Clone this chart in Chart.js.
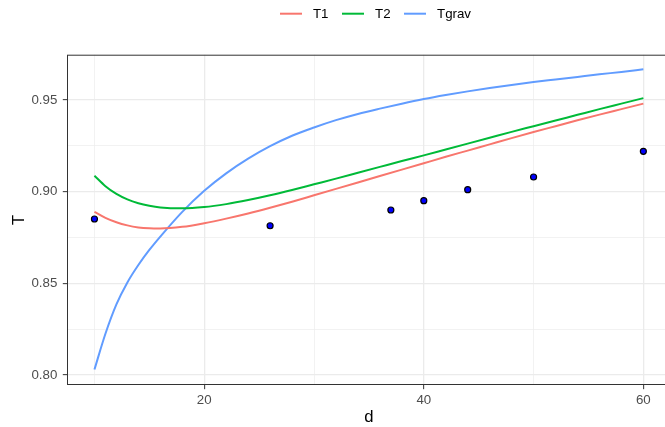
<!DOCTYPE html>
<html>
<head>
<meta charset="utf-8">
<script src="https://cdn.jsdelivr.net/npm/chart.js@4.4.1/dist/chart.umd.min.js"></script>
<style>
  html, body { margin: 0; padding: 0; overflow: hidden; background: #ffffff; }
</style>
</head>
<body>
<canvas id="chart" width="676" height="427"></canvas>
<script>
// curve values (every unit near the start, then every 2)
const dCurve = [10, 11, 12, 13, 14, 15, 16, 18, 20, 22, 24, 26, 28, 30, 32, 34, 36, 38, 40, 42, 44, 46, 48, 50, 52, 54, 56, 58, 60];
const t1 = [0.8890, 0.8857, 0.8833, 0.8816, 0.8805, 0.8800, 0.8799, 0.8808, 0.8828, 0.8853, 0.8881, 0.8912, 0.8945, 0.8980, 0.9015,
            0.9050, 0.9085, 0.9120, 0.9155, 0.9190, 0.9224, 0.9258, 0.9292, 0.9325, 0.9357, 0.9389, 0.9420, 0.9450, 0.9480];
const t2 = [0.9087, 0.9030, 0.8988, 0.8958, 0.8937, 0.8923, 0.8914, 0.8909, 0.8916, 0.8932, 0.8954, 0.8980, 0.9009, 0.9040, 0.9071,
            0.9103, 0.9135, 0.9167, 0.9198, 0.9230, 0.9262, 0.9294, 0.9326, 0.9357, 0.9388, 0.9419, 0.9450, 0.9480, 0.9510];
const tGrav = [0.8030, 0.8225, 0.8385, 0.8505, 0.8600, 0.8682, 0.8755, 0.8890, 0.9005, 0.9100, 0.9180, 0.9248, 0.9305, 0.9350, 0.9390,
               0.9424, 0.9453, 0.9480, 0.9505, 0.9527, 0.9547, 0.9565, 0.9582, 0.9598, 0.9612, 0.9626, 0.9640, 0.9653, 0.9667];

// measured points
const dObs = [10, 26, 37, 40, 44, 50, 60];
const tObs = [0.8851, 0.8814, 0.8900, 0.8951, 0.9011, 0.9080, 0.9220];

const xTicks = [10, 20, 30, 40, 50, 60];
const yTicks = [0.80, 0.825, 0.85, 0.875, 0.90, 0.925, 0.95];

const FONT = '"Liberation Sans", Arial, sans-serif';
const GRID = '#EBEBEB';
const DARK = '#333333';

const toXY = (xs, ys) => xs.map((x, i) => ({ x: x, y: ys[i] }));
const isMajorX = v => v % 20 === 0;
const isMajorY = v => Math.round(v * 1000) % 50 === 0;

// ggplot-like panel border on all four sides
const panelBorder = {
    id: 'panelBorder',
    afterDraw(chart) {
        const { ctx, chartArea: a } = chart;
        ctx.save();
        ctx.strokeStyle = DARK;
        ctx.lineWidth = 1;
        ctx.strokeRect(a.left + 0.5, a.top + 0.5, a.right - a.left - 1, a.bottom - a.top - 1);
        ctx.restore();
    }
};

// legend drawn as line keys over the top, centred like the reference
const topLegend = {
    id: 'topLegend',
    afterDraw(chart) {
        const ctx = chart.ctx;
        const items = chart.data.datasets.filter(ds => ds.label);
        const keyW = 22, textGap = 11, itemGap = 13.5, cx = 375.5, cy = 13.7;
        ctx.save();
        ctx.font = '13.3px ' + FONT;
        let total = 0;
        items.forEach((ds, i) => {
            total += keyW + textGap + ctx.measureText(ds.label).width + (i ? itemGap : 0);
        });
        let x = cx - total / 2;
        items.forEach(ds => {
            ctx.strokeStyle = ds.borderColor;
            ctx.lineWidth = ds.borderWidth;
            ctx.beginPath();
            ctx.moveTo(x, cy);
            ctx.lineTo(x + keyW, cy);
            ctx.stroke();
            x += keyW + textGap;
            ctx.fillStyle = '#000000';
            ctx.textBaseline = 'middle';
            ctx.fillText(ds.label, x, cy + 0.5);
            x += ctx.measureText(ds.label).width + itemGap;
        });
        ctx.restore();
    }
};

const lineSet = (label, ys, color) => ({
    label: label,
    data: toXY(dCurve, ys),
    showLine: true,
    borderColor: color,
    backgroundColor: color,
    borderWidth: 2,
    pointRadius: 0,
    cubicInterpolationMode: 'monotone',
    order: 2
});

new Chart(document.getElementById('chart'), {
    type: 'scatter',
    data: {
        datasets: [
            lineSet('T1', t1, '#F8766D'),
            lineSet('T2', t2, '#00BA38'),
            lineSet('Tgrav', tGrav, '#619CFF'),
            {
                label: '',
                data: toXY(dObs, tObs),
                pointRadius: 3,
                pointBackgroundColor: '#0000FF',
                pointBorderColor: '#000000',
                pointBorderWidth: 1.2,
                order: 1
            }
        ]
    },
    options: {
        responsive: false,
        devicePixelRatio: 1,
        animation: false,
        layout: { padding: { top: 54.7, right: 1, left: 0, bottom: 0 } },
        plugins: {
            legend: { display: false },
            tooltip: { enabled: false }
        },
        scales: {
            x: {
                type: 'linear',
                min: 7.5,
                max: 62.5,
                afterBuildTicks: axis => { axis.ticks = xTicks.map(v => ({ value: v })); },
                afterFit: scale => { scale.height = 42; },
                ticks: {
                    autoSkip: false,
                    maxRotation: 0,
                    padding: 3,
                    color: '#4D4D4D',
                    font: { family: FONT, size: 13.3 },
                    callback: v => isMajorX(v) ? String(v) : ''
                },
                grid: {
                    color: GRID,
                    lineWidth: c => isMajorX(c.tick.value) ? 1.3 : 0.65,
                    tickColor: c => isMajorX(c.tick.value) ? DARK : 'rgba(0,0,0,0)',
                    tickLength: 4.2,
                    tickWidth: 1
                },
                border: { display: false },
                title: {
                    display: true,
                    text: 'd',
                    color: '#000000',
                    font: { family: FONT, size: 16.7 },
                    padding: { top: 0, bottom: 0 }
                }
            },
            y: {
                type: 'linear',
                min: 0.79455,
                max: 0.9747,
                afterBuildTicks: axis => { axis.ticks = yTicks.map(v => ({ value: v })); },
                afterFit: scale => { scale.width = 67; },
                ticks: {
                    autoSkip: false,
                    padding: 5.5,
                    color: '#4D4D4D',
                    font: { family: FONT, size: 13.3 },
                    callback: v => isMajorY(v) ? v.toFixed(2) : ''
                },
                grid: {
                    color: GRID,
                    lineWidth: c => isMajorY(c.tick.value) ? 1.3 : 0.65,
                    tickColor: c => isMajorY(c.tick.value) ? DARK : 'rgba(0,0,0,0)',
                    tickLength: 4.2,
                    tickWidth: 1
                },
                border: { display: false },
                title: {
                    display: true,
                    text: 'T',
                    color: '#000000',
                    font: { family: FONT, size: 16.7 },
                    padding: { top: 9, bottom: 0 }
                }
            }
        }
    },
    plugins: [panelBorder, topLegend]
});
</script>
</body>
</html>
